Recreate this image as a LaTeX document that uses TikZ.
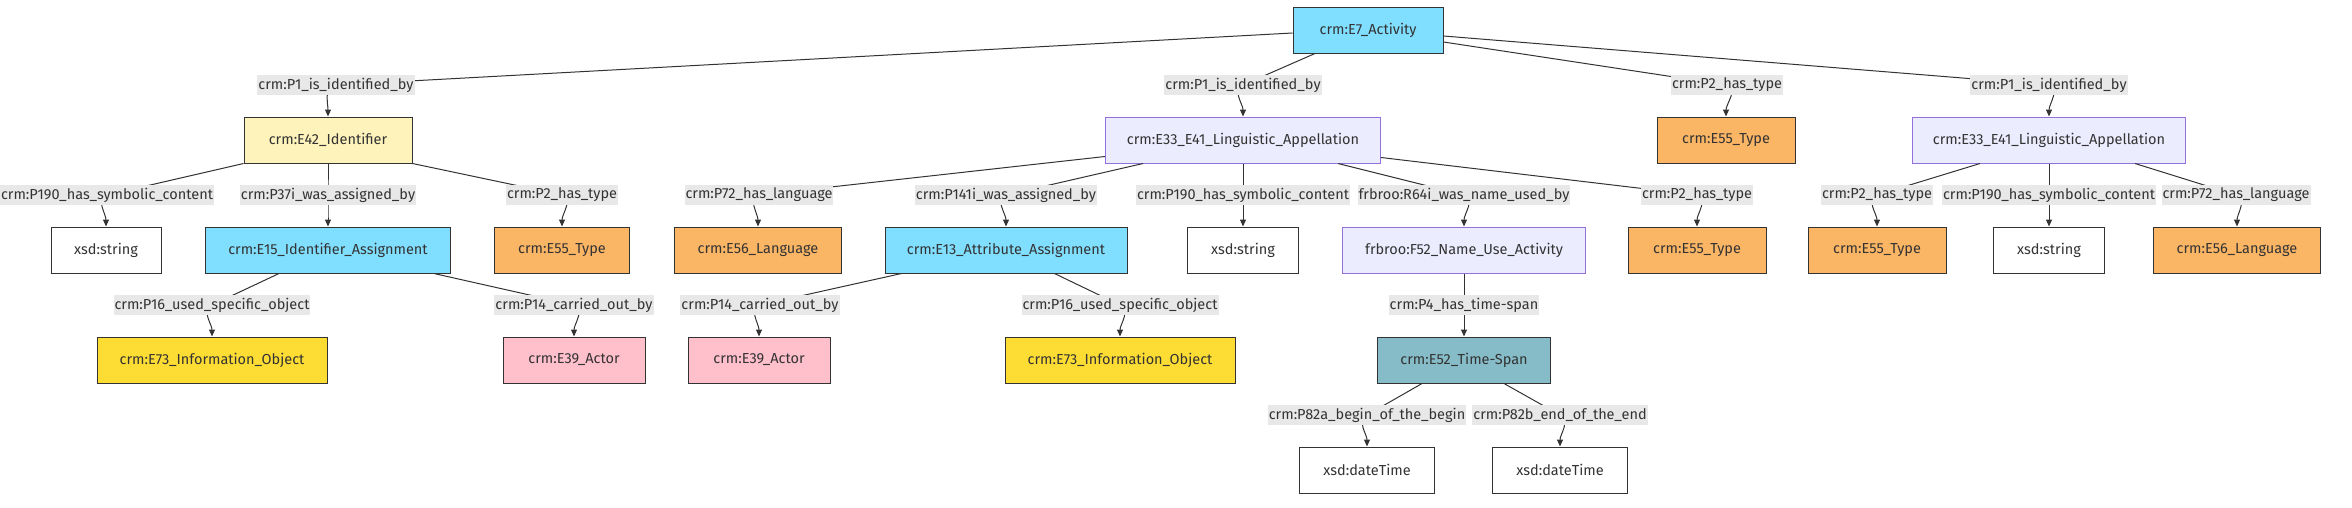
\documentclass[tikz,border=0pt]{standalone}
\usepackage{fontspec}
\setmainfont{Fira Sans}
\usetikzlibrary{arrows.meta,calc}
\definecolor{actblue}{HTML}{80DEFF}
\definecolor{idyellow}{HTML}{FEF3BA}
\definecolor{lpurple}{HTML}{ECECFF}
\definecolor{purpleline}{HTML}{9370DB}
\definecolor{typeorange}{HTML}{FAB565}
\definecolor{infoyellow}{HTML}{FDDC34}
\definecolor{actorpink}{HTML}{FFBFCB}
\definecolor{timeteal}{HTML}{86BCC8}
\definecolor{lblbg}{HTML}{E8E8E8}
\definecolor{ink}{HTML}{333333}
\newcommand{\conn}[3]{%
  \draw[edge] let \p1=($(#2)-(#1)$), \n1={atan2(\y1,\x1)} in (#1) -- (#2) to[out=\n1,in=90] (#3.north);}
\begin{document}
\begin{tikzpicture}[x=1pt,y=-1pt,
  box/.style={draw=ink, line width=1pt, minimum height=46pt, inner sep=0pt,
    font=\fontsize{14.5}{17}\selectfont, text=ink},
  act/.style={box, fill=actblue},
  ident/.style={box, fill=idyellow},
  appel/.style={box, fill=lpurple, draw=purpleline},
  typ/.style={box, fill=typeorange},
  lit/.style={box, fill=white},
  info/.style={box, fill=infoyellow},
  actor/.style={box, fill=actorpink},
  tspan/.style={box, fill=timeteal},
  lbl/.style={fill=lblbg, text=ink, inner xsep=1pt, inner ysep=0pt, minimum height=20pt,
    font=\fontsize{14.5}{17}\selectfont},
  edge/.style={draw=ink, line width=1pt, -{Triangle[length=7pt,width=6pt]}}]
\useasboundingbox (0,0) rectangle (2352,507);
% nodes
\node[act, minimum width=150pt] (e7) at (1368,30) {crm:E7\_Activity};
\node[ident, minimum width=168pt] (id42) at (328,140) {crm:E42\_Identifier};
\node[appel, minimum width=275pt] (la1) at (1243,140) {crm:E33\_E41\_Linguistic\_Appellation};
\node[typ, minimum width=138pt] (t1) at (1726,140) {crm:E55\_Type};
\node[appel, minimum width=273pt] (la2) at (2049,140) {crm:E33\_E41\_Linguistic\_Appellation};
\node[lit, minimum width=110pt] (s1) at (106,250) {xsd:string};
\node[act, minimum width=245pt] (ia) at (328,250) {crm:E15\_Identifier\_Assignment};
\node[typ, minimum width=135pt] (t2) at (562,250) {crm:E55\_Type};
\node[typ, minimum width=167pt] (lg1) at (758,250) {crm:E56\_Language};
\node[act, minimum width=242pt] (aa) at (1006,250) {crm:E13\_Attribute\_Assignment};
\node[lit, minimum width=111pt] (s2) at (1243,250) {xsd:string};
\node[appel, minimum width=243pt] (nu) at (1464,250) {frbroo:F52\_Name\_Use\_Activity};
\node[typ, minimum width=138pt] (t3) at (1697,250) {crm:E55\_Type};
\node[typ, minimum width=138pt] (t4) at (1877,250) {crm:E55\_Type};
\node[lit, minimum width=111pt] (s3) at (2049,250) {xsd:string};
\node[typ, minimum width=167pt] (lg2) at (2237,250) {crm:E56\_Language};
\node[info, minimum width=230pt] (io1) at (212,360) {crm:E73\_Information\_Object};
\node[actor, minimum width=142pt] (ac1) at (574,360) {crm:E39\_Actor};
\node[actor, minimum width=142pt] (ac2) at (759,360) {crm:E39\_Actor};
\node[info, minimum width=230pt] (io2) at (1120,360) {crm:E73\_Information\_Object};
\node[tspan, minimum width=173pt] (ts) at (1464,360) {crm:E52\_Time-Span};
\node[lit, minimum width=135pt] (dt1) at (1367,470) {xsd:dateTime};
\node[lit, minimum width=135pt] (dt2) at (1560,470) {xsd:dateTime};
% label positions
\coordinate (cA1) at (336,85);
\coordinate (cA2) at (1243,85);
\coordinate (cA3) at (1727,85);
\coordinate (cA4) at (2049,85);
\coordinate (cB1) at (107,195);
\coordinate (cB2) at (328,195);
\coordinate (cB3) at (562,195);
\coordinate (cB4) at (759,195);
\coordinate (cB5) at (1006,195);
\coordinate (cB6) at (1243,195);
\coordinate (cB7) at (1464,195);
\coordinate (cB8) at (1697,195);
\coordinate (cB9) at (1877,195);
\coordinate (cB10) at (2049,195);
\coordinate (cB11) at (2236,195);
\coordinate (cC1) at (212,305);
\coordinate (cC2) at (574,305);
\coordinate (cC3) at (760,305);
\coordinate (cC4) at (1120,305);
\coordinate (cC5) at (1464,305);
\coordinate (cD1) at (1367,415);
\coordinate (cD2) at (1560,415);
% start points on source nodes
\coordinate (sA1) at ([yshift=-3pt]e7.west);
\coordinate (sA2) at ([xshift=-53pt]e7.south);
\coordinate (sA3) at ([yshift=-12pt]e7.east);
\coordinate (sA4) at ([yshift=-6pt]e7.east);
\coordinate (sB1) at (id42.south west);
\coordinate (sB2) at (id42.south);
\coordinate (sB3) at (id42.south east);
\coordinate (sB4) at ([yshift=7pt]la1.south west);
\coordinate (sB5) at ([xshift=38pt]la1.south west);
\coordinate (sB6) at (la1.south);
\coordinate (sB7) at ([xshift=-43pt]la1.south east);
\coordinate (sB8) at ([yshift=6pt]la1.south east);
\coordinate (sB9) at ([xshift=68pt]la2.south west);
\coordinate (sB10) at (la2.south);
\coordinate (sB11) at ([xshift=-51pt]la2.south east);
\coordinate (sC1) at ([xshift=74pt]ia.south west);
\coordinate (sC2) at ([xshift=-17pt]ia.south east);
\coordinate (sC3) at ([xshift=17pt]aa.south west);
\coordinate (sC4) at ([xshift=170pt]aa.south west);
\coordinate (sC5) at (nu.south);
\coordinate (sD1) at ([xshift=45pt]ts.south west);
\coordinate (sD2) at ([xshift=127pt]ts.south west);
% connectors
\conn{sA1}{cA1}{id42}
\conn{sA2}{cA2}{la1}
\conn{sA3}{cA3}{t1}
\conn{sA4}{cA4}{la2}
\conn{sB1}{cB1}{s1}
\conn{sB2}{cB2}{ia}
\conn{sB3}{cB3}{t2}
\conn{sB4}{cB4}{lg1}
\conn{sB5}{cB5}{aa}
\conn{sB6}{cB6}{s2}
\conn{sB7}{cB7}{nu}
\conn{sB8}{cB8}{t3}
\conn{sB9}{cB9}{t4}
\conn{sB10}{cB10}{s3}
\conn{sB11}{cB11}{lg2}
\conn{sC1}{cC1}{io1}
\conn{sC2}{cC2}{ac1}
\conn{sC3}{cC3}{ac2}
\conn{sC4}{cC4}{io2}
\conn{sC5}{cC5}{ts}
\conn{sD1}{cD1}{dt1}
\conn{sD2}{cD2}{dt2}
% labels
\node[lbl] (lA1) at (cA1) {crm:P1\_is\_identified\_by};
\node[lbl] (lA2) at (cA2) {crm:P1\_is\_identified\_by};
\node[lbl] (lA3) at (cA3) {crm:P2\_has\_type};
\node[lbl] (lA4) at (cA4) {crm:P1\_is\_identified\_by};
\node[lbl] (lB1) at (cB1) {crm:P190\_has\_symbolic\_content};
\node[lbl] (lB2) at (cB2) {crm:P37i\_was\_assigned\_by};
\node[lbl] (lB3) at (cB3) {crm:P2\_has\_type};
\node[lbl] (lB4) at (cB4) {crm:P72\_has\_language};
\node[lbl] (lB5) at (cB5) {crm:P141i\_was\_assigned\_by};
\node[lbl] (lB6) at (cB6) {crm:P190\_has\_symbolic\_content};
\node[lbl] (lB7) at (cB7) {frbroo:R64i\_was\_name\_used\_by};
\node[lbl] (lB8) at (cB8) {crm:P2\_has\_type};
\node[lbl] (lB9) at (cB9) {crm:P2\_has\_type};
\node[lbl] (lB10) at (cB10) {crm:P190\_has\_symbolic\_content};
\node[lbl] (lB11) at (cB11) {crm:P72\_has\_language};
\node[lbl] (lC1) at (cC1) {crm:P16\_used\_specific\_object};
\node[lbl] (lC2) at (cC2) {crm:P14\_carried\_out\_by};
\node[lbl] (lC3) at (cC3) {crm:P14\_carried\_out\_by};
\node[lbl] (lC4) at (cC4) {crm:P16\_used\_specific\_object};
\node[lbl] (lC5) at (cC5) {crm:P4\_has\_time-span};
\node[lbl] (lD1) at (cD1) {crm:P82a\_begin\_of\_the\_begin};
\node[lbl] (lD2) at (cD2) {crm:P82b\_end\_of\_the\_end};
\end{tikzpicture}
\end{document}
